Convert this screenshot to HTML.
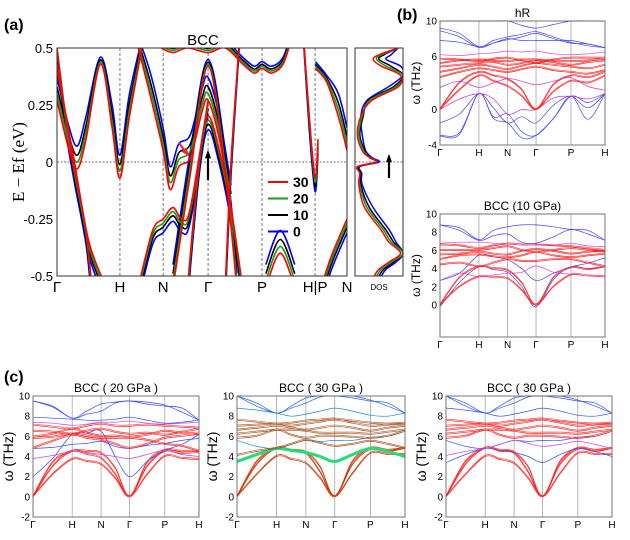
<!DOCTYPE html>
<html><head><meta charset="utf-8">
<style>
body{margin:0;background:#fff;}
svg{display:block;font-family:"Liberation Sans","DejaVu Sans",sans-serif;}
</style></head>
<body>
<svg id="fig" width="630" height="540" viewBox="0 0 630 540" xmlns="http://www.w3.org/2000/svg">
<rect width="630" height="540" fill="#fff"/>
<text x="4" y="30" font-size="16" font-weight="bold">(a)</text>
<text x="397" y="20" font-size="16" font-weight="bold">(b)</text>
<text x="4" y="382" font-size="16" font-weight="bold">(c)</text>
</svg>
<script>
// ---------- DATA ----------
const aTickLabels = ["Γ","H","N","Γ","P","H|P","N"];
const aTickK = [0,0.217,0.366,0.521,0.707,0.890,1];
const aPressures = ["30","20","10","0"];
const aColors = ["#ff0000","#1a9a1a","#000000","#0000ff"];
const aShift = [0,0.03,0.06,0.10];
const aBands = [
 [[0,0.42],[0.06,0.0],[0.11,-0.35],[0.17,-0.55]],
 [[0,0.27],[0.04,0.06],[0.07,-0.03],[0.1,0.1],[0.15,0.43],[0.19,0.15],[0.217,-0.07],[0.25,0.2],[0.3,0.55]],
 [[0,0.5],[0.03,0.2],[0.06,-0.03],[0.1,-0.3],[0.12,-0.55]],
 [[0.27,0.55],[0.32,0.3],[0.366,0.05],[0.39,-0.12],[0.42,-0.02],[0.46,0.02],[0.5,0.22],[0.521,0.27],[0.56,0.1],[0.6,-0.2]],
 [[0.28,-0.55],[0.33,-0.3],[0.366,-0.25],[0.4,-0.2],[0.43,-0.25],[0.46,-0.2],[0.521,0.27]],
 [[0.4,-0.55],[0.46,-0.05],[0.521,0.42],[0.58,-0.05],[0.62,-0.55]],
 [[0.45,-0.55],[0.49,0.0],[0.521,0.2],[0.56,0.05],[0.6,-0.2],[0.64,-0.55]],
 [[0.36,0.5],[0.4,0.48],[0.45,0.5],[0.521,0.48],[0.58,0.5],[0.64,0.43],[0.68,0.39],[0.707,0.41],[0.74,0.39],[0.78,0.43],[0.81,0.55]],
 [[0.58,-0.55],[0.6,0.0],[0.63,0.55]],
 [[0.72,-0.55],[0.77,-0.4],[0.82,-0.55]],
 [[0.85,0.55],[0.87,0.2],[0.89,-0.07],[0.9,0.1]],
 [[0.891,0.41],[0.93,0.35],[0.97,0.2],[1,0.05]],
 [[0.91,-0.55],[0.95,-0.4],[1,-0.25]]
];
const dosE = [0.5,0.47,0.45,0.42,0.38,0.33,0.27,0.2,0.12,0.05,0.02,0.0,-0.02,-0.05,-0.1,-0.2,-0.3,-0.35,-0.4,-0.44,-0.47,-0.5];
const dosVals = [
 [0.9,0.5,0.38,0.55,0.95,0.9,0.35,0.12,0.05,0.15,0.3,0.45,0.05,0.1,0.08,0.2,0.55,0.7,0.95,0.7,0.5,0.4],
 [0.9,0.55,0.45,0.65,1.0,0.85,0.3,0.15,0.08,0.18,0.3,0.45,0.06,0.1,0.1,0.25,0.6,0.75,1.0,0.75,0.55,0.45],
 [0.9,0.6,0.5,0.75,1.0,0.8,0.28,0.17,0.1,0.2,0.3,0.45,0.08,0.12,0.12,0.3,0.65,0.8,1.0,0.8,0.6,0.5],
 [0.9,0.75,0.65,0.95,1.0,0.7,0.25,0.12,0.15,0.22,0.35,0.5,0.1,0.14,0.15,0.38,0.72,0.85,1.0,0.85,0.65,0.55]
];
const phTickLabels = ["Γ","H","N","Γ","P","H"];
const phTickK = [0,0.236,0.41,0.582,0.794,1];
const phSampleK = [0,0.118,0.236,0.323,0.41,0.496,0.582,0.688,0.794,0.897,1];
const bTopBands = [
 ["#4444ff",[-1.5,-0.5,1.8,0.2,-1.5,-0.8,-1.5,0.5,1.5,0.2,1.8]],
 ["#4444ff",[-3,-2.8,1.8,-1,-1.5,-3.2,-2.9,-1,1.5,-1.1,1.8]],
 ["#4444ff",[-2.9,-2.6,1.8,-0.8,-0.5,-2.5,-2.9,-1,1.5,0.8,1.8]],
 ["#cc33cc",[0,1.2,1.8,1.2,-0.5,0,0,1.3,1.5,1.2,1.8]],
 ["#ff2222",[0,2.2,3.8,3.2,2.6,1.5,0,2,3.2,3,3.8]],
 ["#ff2222",[0,3,4.2,3.8,3.4,2.2,0,2.8,3.8,3.6,4.2]],
 ["#cc33cc",[2.5,3.2,2.5,3,3.5,3.2,2.8,3.2,3.6,2.6,2.2]],
 ["#ff2222",[3.6,4.2,4.6,4.4,4.2,4.5,4.8,4.4,4.2,4.0,4.4]],
 ["#ff2222",[4.2,4.6,5.0,4.8,4.5,4.9,5.2,5.0,4.8,4.6,5.0]],
 ["#ff2222",[4.8,5.0,5.2,5.3,5.0,5.2,5.5,5.3,5.0,5.3,5.5]],
 ["#ff2222",[5.2,5.5,5.6,5.5,5.4,5.6,5.6,5.5,5.4,5.5,5.7]],
 ["#ff2222",[5.7,5.6,5.4,5.7,5.8,5.5,5.2,5.6,5.8,5.8,5.8]],
 ["#dd44dd",[6.2,6.1,6.3,6.4,6.6,6.5,6.6,6.3,6.2,6.3,6.5]],
 ["#4444ff",[7.8,7.6,7.1,7.5,8.0,7.8,7.8,7.8,7.8,7.4,7.0]],
 ["#4444ff",[9.2,8.6,7.1,7.8,8.2,8.5,8.8,8.2,7.6,7.2,7.0]],
 ["#4444ff",[8.9,8.2,7.0,7.5,7.9,8.2,8.6,8.0,7.5,7.4,7.0]],
 ["#4444ff",[10,10,10,10,10,9.5,9.2,9.6,10,10,10]]
];
const bBotBands = [
 ["#4444ff",[2.7,3.5,5.5,5.3,5.0,4,2.7,3.5,4.2,4.6,5.2]],
 ["#4444ff",[-0.2,2.5,4.2,3.9,3.6,2,-0.2,2.8,4.2,4.0,4.2]],
 ["#ff2222",[0,2,3.1,3.0,2.9,1.6,0,2,3.3,3.2,3.1]],
 ["#ff2222",[0,3,4.2,4.0,3.8,2.4,0,3,4.1,3.9,4.2]],
 ["#dd44dd",[2.7,3.5,3.1,3.3,3.5,3.6,4.3,3.6,3.4,3.2,3.1]],
 ["#ff2222",[4.4,4.6,4.2,4.6,5.0,4.8,4.8,5.0,5.0,4.6,4.2]],
 ["#ff2222",[5.0,5.4,5.5,5.3,5.2,5.4,5.8,5.4,5.2,5.4,5.6]],
 ["#ff2222",[5.5,5.6,5.8,5.6,5.5,5.9,6.1,5.9,5.6,5.8,5.9]],
 ["#ff2222",[6.0,6.0,6.0,6.2,6.4,6.0,5.8,6.0,6.2,6.0,5.8]],
 ["#ff2222",[6.6,6.5,6.2,6.5,6.7,6.6,6.6,6.5,6.4,6.2,6.0]],
 ["#dd44dd",[6.8,6.9,6.9,6.8,6.7,6.6,6.6,6.6,6.8,6.5,6.4]],
 ["#4444ff",[8.8,8.2,7.1,7.6,7.8,6.9,6.8,7.5,8.3,7.8,7.1]],
 ["#4444ff",[8.8,8.5,7.2,8.2,8.6,8.8,8.8,8.6,8.3,8.2,7.1]]
];
const c1Bands = [
 ["#ff2222",[0,2.2,3.7,3.5,3.2,1.8,0,2.2,4.0,3.8,3.7]],
 ["#ff2222",[0,3,4.5,4.2,3.8,2.2,0,3,4.5,4.3,4.4]],
 ["#ff2222",[0,3.4,4.5,4.5,4.3,2.8,0,3.4,4.6,4.5,4.5]],
 ["#3344ff",[2,3.8,6.2,6.3,6.5,4,2,3.5,4.6,5.2,6.2]],
 ["#cc44dd",[3.8,4.1,4.5,4.4,4.2,4.0,3.8,4.2,4.6,4.2,4.0]],
 ["#3344ff",[4.8,4.9,5.2,5.3,5.5,5.0,4.8,5.1,5.3,5.6,5.8]],
 ["#ff2222",[4.8,5.5,6.1,5.8,5.6,5.2,4.8,5.2,5.8,6.0,6.2]],
 ["#ff2222",[5.8,5.9,6.2,6.0,5.8,5.8,5.8,5.6,5.2,5.0,4.5]],
 ["#ff2222",[5.9,6.2,6.7,6.3,6.0,6.0,5.9,6.1,6.5,6.3,6.2]],
 ["#ff2222",[6.5,6.4,6.2,6.5,6.7,6.4,6.2,6.3,6.1,6.4,6.7]],
 ["#ff2222",[7.1,6.9,6.7,7.0,7.2,7.0,7.0,7.1,7.0,6.9,6.8]],
 ["#cc44dd",[7.4,7.3,7.1,7.2,7.4,7.4,7.5,7.3,7.2,7.3,7.4]],
 ["#3344ff",[7.9,7.8,7.7,7.6,7.6,7.7,7.9,7.6,7.3,7.4,7.6]],
 ["#3344ff",[9.5,9.0,7.8,8.5,9.2,9.4,9.5,9.4,9.1,8.4,7.6]],
 ["#3344ff",[9.5,8.9,7.8,8.2,8.5,9.3,9.5,9.2,9.0,8.8,7.6]]
];
const c2Bands = [
 ["#cc3300",[0,2.2,4.0,3.7,3.3,1.8,0,2.3,4.3,4.2,4.2]],
 ["#cc3300",[0,3.2,4.8,4.5,4.3,2.4,0,3.2,4.7,4.5,4.8]],
 ["#cc3300",[0,3.5,4.8,4.6,4.4,2.9,0,3.5,4.8,4.6,4.8]],
 ["#22dd77",[3.5,4.2,4.8,4.6,4.4,4.0,3.5,4.2,4.8,4.5,4.0]],
 ["#2288cc",[5.6,5.0,4.8,5.2,5.6,5.5,5.6,5.6,5.9,6.0,6.5]],
 ["#aa5522",[4.1,4.5,4.8,5.2,5.6,5.3,5.0,5.2,5.5,5.2,4.8]],
 ["#aa5522",[5.8,6.0,6.6,6.1,5.8,6.0,6.0,5.9,5.8,6.0,6.5]],
 ["#aa5522",[6.2,6.4,6.6,6.6,6.5,6.3,6.3,6.3,6.2,6.4,6.6]],
 ["#aa5522",[6.6,6.8,7.0,6.8,6.6,6.8,7.0,6.8,6.5,6.8,7.0]],
 ["#aa5522",[7.0,7.1,7.2,7.0,7.2,7.4,7.6,7.3,7.0,7.1,7.2]],
 ["#aa5522",[7.6,7.4,7.2,7.3,7.5,7.6,7.7,7.5,7.3,7.2,7.3]],
 ["#2288cc",[8.8,8.6,8.3,8.0,8.2,8.5,8.8,8.5,8.1,8.0,8.3]],
 ["#2266ee",[10,9.3,8.3,9.0,9.8,10,10,10,9.6,9.0,8.3]],
 ["#2266ee",[10,9.0,8.3,8.8,9.3,9.9,10,9.8,9.5,9.3,8.3]]
];
const c3Bands = [
 ["#ff2222",[0,2.2,4.0,3.7,3.3,1.8,0,2.3,4.3,4.2,4.2]],
 ["#ff2222",[0,3.2,4.8,4.5,4.3,2.4,0,3.2,4.7,4.5,4.8]],
 ["#ff2222",[0,3.5,4.8,4.6,4.4,2.9,0,3.5,4.8,4.6,4.8]],
 ["#3355ff",[3.4,4.2,4.8,4.6,4.4,4.0,3.4,4.2,4.8,4.5,4.0]],
 ["#3355ff",[5.6,5.0,4.8,5.2,5.6,5.5,5.6,5.6,5.9,6.0,6.5]],
 ["#cc44dd",[4.1,4.5,4.8,5.2,5.6,5.3,5.0,5.2,5.5,5.2,4.8]],
 ["#ff2222",[5.8,6.0,6.6,6.1,5.8,6.0,6.0,5.9,5.8,6.0,6.5]],
 ["#ff2222",[6.2,6.4,6.6,6.6,6.5,6.3,6.3,6.3,6.2,6.4,6.6]],
 ["#ff2222",[6.6,6.8,7.0,6.8,6.6,6.8,7.0,6.8,6.5,6.8,7.0]],
 ["#ff2222",[7.0,7.1,7.2,7.0,7.2,7.4,7.6,7.3,7.0,7.1,7.2]],
 ["#ff2222",[7.6,7.4,7.2,7.3,7.5,7.6,7.7,7.5,7.3,7.2,7.3]],
 ["#3355ff",[8.8,8.6,8.3,8.0,8.2,8.5,8.8,8.5,8.1,8.0,8.3]],
 ["#3355ff",[10,9.3,8.3,9.0,9.8,10,10,10,9.6,9.0,8.3]],
 ["#3355ff",[10,9.0,8.3,8.8,9.3,9.9,10,9.8,9.5,9.3,8.3]]
];

// ---------- DRAW ----------
const NS = "http://www.w3.org/2000/svg";
const svg = document.getElementById("fig");
function mk(tag, attrs, parent){
  const e = document.createElementNS(NS, tag);
  for (const k in attrs) e.setAttribute(k, attrs[k]);
  (parent||svg).appendChild(e);
  return e;
}
function smoothPath(pts){
  if (pts.length < 2) return "";
  let d = "M" + pts[0][0].toFixed(1) + "," + pts[0][1].toFixed(1);
  for (let i = 0; i < pts.length - 1; i++){
    const p0 = pts[Math.max(0,i-1)], p1 = pts[i], p2 = pts[i+1], p3 = pts[Math.min(pts.length-1,i+2)];
    const c1x = p1[0] + (p2[0]-p0[0])/6, c1y = p1[1] + (p2[1]-p0[1])/6;
    const c2x = p2[0] - (p3[0]-p1[0])/6, c2y = p2[1] - (p3[1]-p1[1])/6;
    d += "C" + c1x.toFixed(1)+","+c1y.toFixed(1)+" "+c2x.toFixed(1)+","+c2y.toFixed(1)+" "+p2[0].toFixed(1)+","+p2[1].toFixed(1);
  }
  return d;
}

// ---- Panel (a) ----
const A = {x0:57,x1:347,y0:48,y1:276,emin:-0.5,emax:0.5};
const ax = k => A.x0 + k*(A.x1-A.x0);
const ay = e => A.y1 - (e-A.emin)/(A.emax-A.emin)*(A.y1-A.y0);
mk("clipPath",{id:"clipA"});
mk("rect",{x:A.x0,y:A.y0,width:A.x1-A.x0,height:A.y1-A.y0},svg.lastChild);
const gA = mk("g",{"clip-path":"url(#clipA)"});


aTickK.forEach((k,i)=>{ if(i>0&&i<aTickK.length-1){
  const l = mk("line",{x1:ax(k),x2:ax(k),y1:A.y0,y2:A.y1,stroke:"#777","stroke-width":1,"stroke-dasharray":"3,2"},gA);
  
  
}});
const zl = mk("line",{x1:A.x0,x2:A.x1,y1:ay(0),y2:ay(0),stroke:"#444","stroke-width":0.8,"stroke-dasharray":"2,1.5"},gA);


for (let s = aPressures.length-1; s >= 0; s--){
  aBands.forEach((b,bi)=>{
    const p = mk("path",{d:smoothPath(b.map(q=>[ax(q[0]),ay(q[1]+aShift[s]*(q[1]>0.3?0.3:1)*(bi%2?1:-0.6))])),fill:"none",stroke:aColors[s],"stroke-width":1.6},gA);
    
    
  });
}
const frA = mk("rect",{x:A.x0,y:A.y0,width:A.x1-A.x0,height:A.y1-A.y0,fill:"none",stroke:"#333","stroke-width":1});


[0.5,0.25,0,-0.25,-0.5].forEach(v=>{
  const t = mk("text",{x:A.x0-4,y:ay(v)+5,"font-size":13,"text-anchor":"end"});
  t.textContent = (v===0?"0":String(v));
  
  
});
aTickLabels.forEach((lab,i)=>{
  const t = mk("text",{x:ax(aTickK[i]),y:292,"font-size":15,"text-anchor":"middle"});
  t.textContent = lab;
  
  
});
let t0 = mk("text",{x:203,y:45,"font-size":15,"text-anchor":"middle"}); t0.textContent="BCC";


t0 = mk("text",{x:0,y:0,"font-size":17,"text-anchor":"middle","font-family":"Liberation Serif, serif",transform:"translate(24,162) rotate(-90)"}); t0.textContent="E − Ef (eV)";


aPressures.forEach((p,i)=>{
  const y = 187 + i*16.5;
  const l = mk("line",{x1:268,x2:288,y1:y-5,y2:y-5,stroke:aColors[i],"stroke-width":2});
  
  
  const t = mk("text",{x:293,y:y,"font-size":14,"font-weight":"bold"}); t.textContent=p;
  
  
});
function arrow(x1,y1,x2,y2,c,name){
  const l = mk("line",{x1:x1,y1:y1,x2:x2,y2:y2,stroke:c,"stroke-width":2.2});
  
  
  const ang = Math.atan2(y2-y1,x2-x1), h=7;
  const pts = [[x2+Math.cos(ang)*2,y2+Math.sin(ang)*2],[x2-h*Math.cos(ang-0.45),y2-h*Math.sin(ang-0.45)],[x2-h*Math.cos(ang+0.45),y2-h*Math.sin(ang+0.45)]];
  const pg = mk("polygon",{points:pts.map(p=>p.join(",")).join(" "),fill:c});
  
  
}
arrow(208,180,208,152,"#000","gamma-arrow");
arrow(389,178,389,156,"#000","dos-arrow");
arrow(179,143,188,155,"#ff2020","red-arrow");

// ---- DOS panel ----
const D = {x0:355,x1:403};
const dx = v => D.x0 + v*(D.x1-D.x0);
mk("clipPath",{id:"clipD"});
mk("rect",{x:D.x0,y:A.y0,width:D.x1-D.x0,height:A.y1-A.y0},svg.lastChild);
const gD = mk("g",{"clip-path":"url(#clipD)"});


const dz = mk("line",{x1:D.x0,x2:D.x1,y1:ay(0),y2:ay(0),stroke:"#444","stroke-width":0.8,"stroke-dasharray":"2,1.5"},gD);


for (let s = dosVals.length-1; s>=0; s--){
  const p = mk("path",{d:smoothPath(dosE.map((e,i)=>[dx(dosVals[s][i]),ay(e)])),fill:"none",stroke:aColors[s],"stroke-width":1.5},gD);
  
  
}
const frD = mk("rect",{x:D.x0,y:A.y0,width:D.x1-D.x0,height:A.y1-A.y0,fill:"none",stroke:"#333","stroke-width":1});


t0 = mk("text",{x:379,y:290,"font-size":8,"text-anchor":"middle"}); t0.textContent="DOS";



// ---- Phonon panels ----
function phonon(id, P, bands, yTicks, title, yTitleSize){
  const px = k => P.x0 + k*(P.x1-P.x0);
  const py = v => P.y1 - (v-P.vmin)/(P.vmax-P.vmin)*(P.y1-P.y0);
  mk("clipPath",{id:"clip"+id});
  mk("rect",{x:P.x0,y:P.y0-1,width:P.x1-P.x0,height:P.y1-P.y0+2},svg.lastChild);
  const g = mk("g",{"clip-path":"url(#clip"+id+")"});
  
  
  phTickK.forEach((k,i)=>{ if(i>0&&i<phTickK.length-1){
    const l = mk("line",{x1:px(k),x2:px(k),y1:P.y0,y2:P.y1,stroke:"#999","stroke-width":0.7},g);
    
    
  }});
  bands.forEach(b=>{
    const isGreen = b[0]==="#22dd77";
    const p = mk("path",{d:smoothPath(b[1].map((v,i)=>[px(phSampleK[i]),py(v)])),fill:"none",stroke:b[0],"stroke-width":isGreen?3:0.7},g);
    
    
    if (b[0]==="#ff2222"||b[0]==="#cc3300"||b[0]==="#aa5522"){
      const p2 = mk("path",{d:smoothPath(b[1].map((v,i)=>[px(phSampleK[i]),py(v+0.12)])),fill:"none",stroke:b[0],"stroke-width":0.6},g);
      
      
    }
  });
  const fr = mk("rect",{x:P.x0,y:P.y0,width:P.x1-P.x0,height:P.y1-P.y0,fill:"none",stroke:"#666","stroke-width":0.9});
  
  
  yTicks.forEach(v=>{
    const t = mk("text",{x:P.x0-3,y:py(v)+3.5,"font-size":10,"text-anchor":"end"}); t.textContent=String(v);
    
    
  });
  phTickLabels.forEach((lab,i)=>{
    const t = mk("text",{x:px(phTickK[i]),y:P.y1+11,"font-size":10,"text-anchor":"middle"}); t.textContent=lab;
    
    
  });
  let tt = mk("text",{x:(P.x0+P.x1)/2,y:P.y0-4,"font-size":12,"text-anchor":"middle"}); tt.textContent=title;
  
  
  tt = mk("text",{x:0,y:0,"font-size":yTitleSize,"text-anchor":"middle",transform:"translate("+(P.x0-20)+","+((P.y0+P.y1)/2)+") rotate(-90)"}); tt.textContent="ω (THz)";
  
  
}
phonon("hr",{x0:440,x1:605,y0:21,y1:145,vmin:-4,vmax:10},bTopBands,[10,6,0,-4],"hR",12);
phonon("b10",{x0:440,x1:605,y0:214,y1:337,vmin:-3.5,vmax:10},bBotBands,[10,8,6,4,2,0],"BCC (10 GPa)",12);
phonon("c20",{x0:33,x1:199,y0:396,y1:517,vmin:-2,vmax:10},c1Bands,[10,8,6,4,2,0,-2],"BCC ( 20 GPa )",14);
phonon("c30a",{x0:237,x1:405,y0:396,y1:517,vmin:-2,vmax:10},c2Bands,[10,8,6,4,2,0,-2],"BCC ( 30 GPa )",14);
phonon("c30b",{x0:446,x1:612,y0:396,y1:517,vmin:-2,vmax:10},c3Bands,[10,8,6,4,2,0,-2],"BCC ( 30 GPa )",14);
</script>
</body></html>
